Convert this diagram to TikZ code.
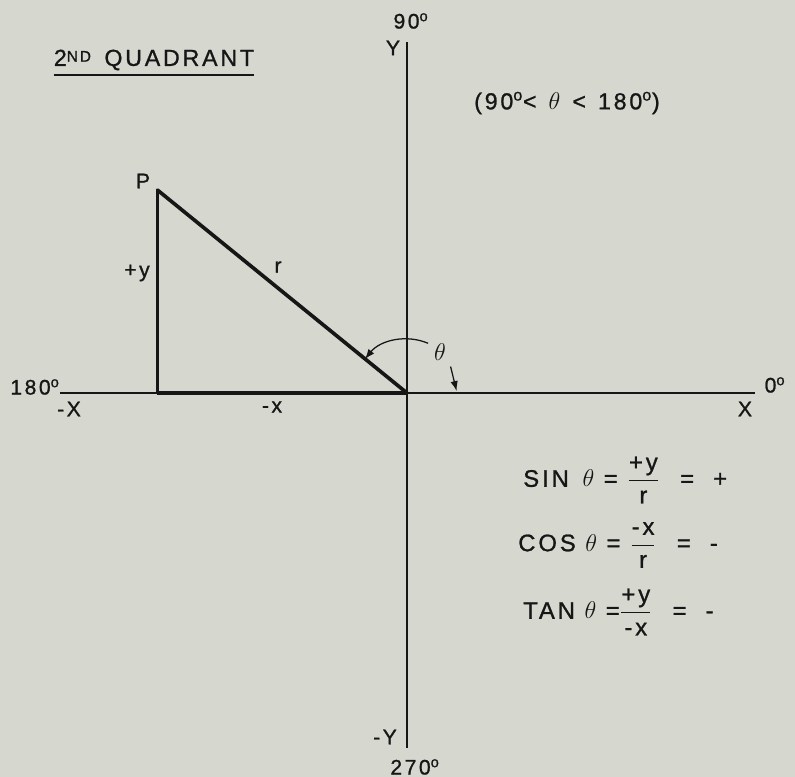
\documentclass[tikz,border=0pt]{standalone}
\usepackage{amsmath}
\usepackage{fontspec}
\setmainfont[LetterSpace=12,FakeBold=1]{Liberation Sans}
\usetikzlibrary{arrows.meta,positioning,calc}
\definecolor{paper}{RGB}{214,216,208}
\definecolor{ink}{RGB}{22,22,22}

\begin{document}
\begin{tikzpicture}[>=Latex,ink,
  lbl/.style={font=\fontsize{15}{18}\selectfont,inner sep=0pt},
  eqn/.style={font=\fontsize{17}{20}\selectfont,anchor=west,inner sep=0pt},
  ax/.style={line width=1.3pt},
  thk/.style={line width=2.6pt}]
\fill[paper] (-10.175,-9.6) rectangle (9.7,9.825);
\useasboundingbox (-10.175,-9.6) rectangle (9.7,9.825);
% axes
\coordinate (O) at (0,0);
\coordinate (xl) at (-8.675,0);
\coordinate (xr) at (8.7,0);
\coordinate (yt) at (0,8.775);
\coordinate (yb) at (0,-8.875);
\draw[ax] (xl)--(xr);
\draw[ax] (yb)--(yt);
% triangle
\coordinate (P) at (-6.24,5.075);
\coordinate (B) at (-6.24,0);
\draw[thk] (B)--(O);
\draw[thk] (B)--(P);
\draw[thk,line cap=round] (P)--(O);
% axis labels
\node[lbl] (n90) at (0.1,9.3) {90\textsuperscript{o}};
\node[lbl] (yp) at (-0.35,8.625) {Y};
\node[lbl] (ym) at (-0.55,-8.6) {-Y};
\node[lbl] (n270) at (0.2,-9.35) {270\textsuperscript{o}};
\node[lbl] (n180) at (-9.3,0.15) {180\textsuperscript{o}};
\node[lbl] (xm) at (-8.45,-0.4) {-X};
\node[lbl] (xp) at (8.45,-0.4) {X};
\node[lbl] (n0) at (9.2,0.2) {0\textsuperscript{o}};
% sides
\node[lbl] (pl) at (-6.6,5.3) {P};
\node[lbl] (yl) at (-6.75,3.0) {+y};
\node[lbl] (rl) at (-3.225,3.15) {r};
\node[lbl] (xl2) at (-3.375,-0.35) {-x};
% angle
\node[lbl,font=\fontsize{17}{20}\selectfont] (th) at (0.825,1.025) {$\theta$};
\draw[->,line width=0.9pt] ($(O)+(67:1.35)$) arc[start angle=67,end angle=141,radius=1.35];
\coordinate (ta) at (1.09,0.66);
\coordinate (tb) at (1.24,0.05);
\draw[->,line width=0.9pt] (ta)--(tb);
% headings
\node[lbl,font=\fontsize{16.5}{19}\selectfont] (quad) at (-6.325,8.325) {2\raisebox{3pt}{\fontsize{11}{11}\selectfont ND}\hspace{3pt} QUADRANT};
\draw[line width=1.3pt] ($(quad.south west)+(0,-0.12)$)--($(quad.south east)+(0,-0.12)$);
\node[lbl,font=\fontsize{16.5}{19}\selectfont] (cond) at (4.0,7.25) {(90\textsuperscript{o}<\hspace{2pt} $\theta$ \hspace{2pt}<\hspace{2pt} 180\textsuperscript{o})};
% ratios
\node[eqn] (sinq) at (2.9,-2.175) {SIN\hspace{3pt} $\theta$ = $\dfrac{\text{+y}}{\text{r}}$ \hspace{8pt}= \ +};
\node[eqn] (cosq) at (2.775,-3.8) {COS $\theta$ = $\dfrac{\text{-x}}{\text{r}}$ \hspace{8pt}= \ -};
\node[eqn] (tanq) at (2.9,-5.475) {TAN $\theta$ =$\dfrac{\text{+y}}{\text{-x}}$ \hspace{8pt}= \ -};
\end{tikzpicture}
\end{document}
